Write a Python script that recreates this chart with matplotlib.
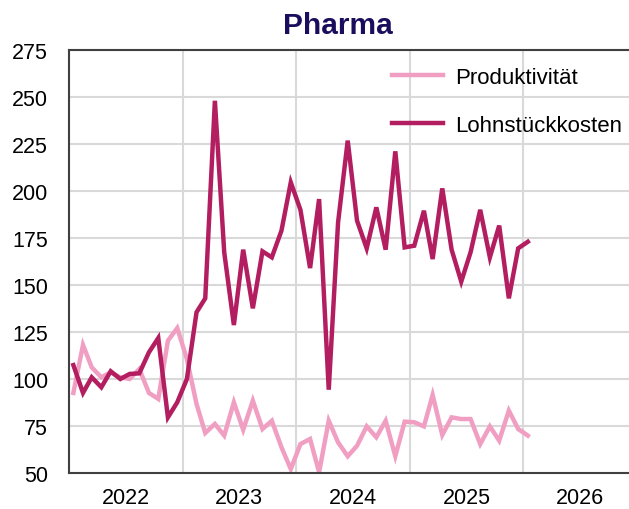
import matplotlib
matplotlib.use("Agg")
import matplotlib.pyplot as plt
import matplotlib.dates as mdates
from matplotlib.ticker import NullFormatter, FixedLocator
import pandas as pd
import numpy as np

plt.rcParams['font.family'] = ['Liberation Sans', 'DejaVu Sans']

months = pd.date_range('2022-01-01', periods=49, freq='MS')
produktivitaet = [92.6, 118.1, 106.2, 100.9, 103.5, 100.9, 100.0, 105.3, 92.6, 89.4,
                  120.4, 127.1, 110.6, 86.7, 71.3, 76.1, 69.9, 87.6, 73.0, 88.5,
                  73.4, 77.8, 63.7, 52.1, 65.4, 68.1, 50.4, 77.8, 66.3, 58.9,
                  64.5, 74.8, 69.0, 77.8, 58.9, 77.3, 77.0, 74.8, 91.5, 70.2,
                  79.6, 78.7, 78.7, 65.4, 74.8, 67.2, 83.2, 73.4, 69.9]
lohnstueckkosten = [107.4, 92.6, 100.9, 95.6, 104.1, 100.0, 102.7, 103.0, 114.2, 121.8,
                    79.6, 87.6, 100.0, 135.5, 142.9, 248.0, 167.4, 128.7, 168.8, 137.6,
                    167.9, 164.7, 178.9, 204.6, 190.0, 159.0, 195.7, 94.3, 183.3, 226.8,
                    184.2, 169.5, 191.3, 168.8, 221.1, 170.0, 170.9, 189.5, 163.8, 201.4,
                    168.8, 151.8, 167.4, 190.0, 164.7, 181.6, 142.9, 169.5, 173.0]
series_labels = ['Produktivität', 'Lohnstückkosten']
year_labels = ['2022', '2023', '2024', '2025', '2026']
yticks = [50, 75, 100, 125, 150, 175, 200, 225, 250, 275]

W, H = 629, 510
fig = plt.figure(figsize=(W/100, H/100), dpi=100)
left, right, top, bottom = 69, 637, 51, 474
ax = fig.add_axes([left/W, 1-bottom/H, (right-left)/W, (bottom-top)/H])

x = months + pd.Timedelta(days=14)
c_pink = '#F19EC3'
c_dark = '#B31E60'
ax.plot(x, produktivitaet, color=c_pink, lw=3.2, label=series_labels[0], solid_joinstyle='miter')
ax.plot(x, lohnstueckkosten, color=c_dark, lw=3.2, label=series_labels[1], solid_joinstyle='miter')

ax.set_xlim(pd.Timestamp('2022-01-01'), pd.Timestamp('2027-01-01'))
ax.set_ylim(50, 275)
ax.set_yticks(yticks)

year_starts = [pd.Timestamp(f'{y}-01-01') for y in range(2022, 2028)]
mid_years = [pd.Timestamp(f'{y}-07-02') for y in year_labels]
ax.xaxis.set_major_locator(FixedLocator(mdates.date2num(year_starts)))
ax.xaxis.set_major_formatter(NullFormatter())
ax.xaxis.set_minor_locator(FixedLocator(mdates.date2num(mid_years)))
ax.xaxis.set_minor_formatter(plt.FixedFormatter(year_labels))

ax.grid(True, which='major', color='#D9D9D9', lw=1.5)
ax.set_axisbelow(True)
ax.tick_params(axis='both', which='both', length=0, labelsize=15.5, colors='black')
ax.tick_params(axis='y', pad=15)
ax.tick_params(axis='x', which='minor', pad=10)

for s in ['left', 'bottom', 'top', 'right']:
    ax.spines[s].set_color('#404040')
    ax.spines[s].set_linewidth(1.5)

fig.text(338/W, 1-26/H, 'Pharma', ha='center', va='center', fontsize=21.5,
         fontweight='bold', color='#1B0D5E')

leg = ax.legend(loc='upper left', bbox_to_anchor=(392/W, 1-68/H), bbox_transform=fig.transFigure,
                frameon=False, fontsize=16, handlelength=2.3, handletextpad=0.55,
                labelspacing=1.2, borderpad=0, borderaxespad=0)

fig.savefig('out.png', dpi=100)
